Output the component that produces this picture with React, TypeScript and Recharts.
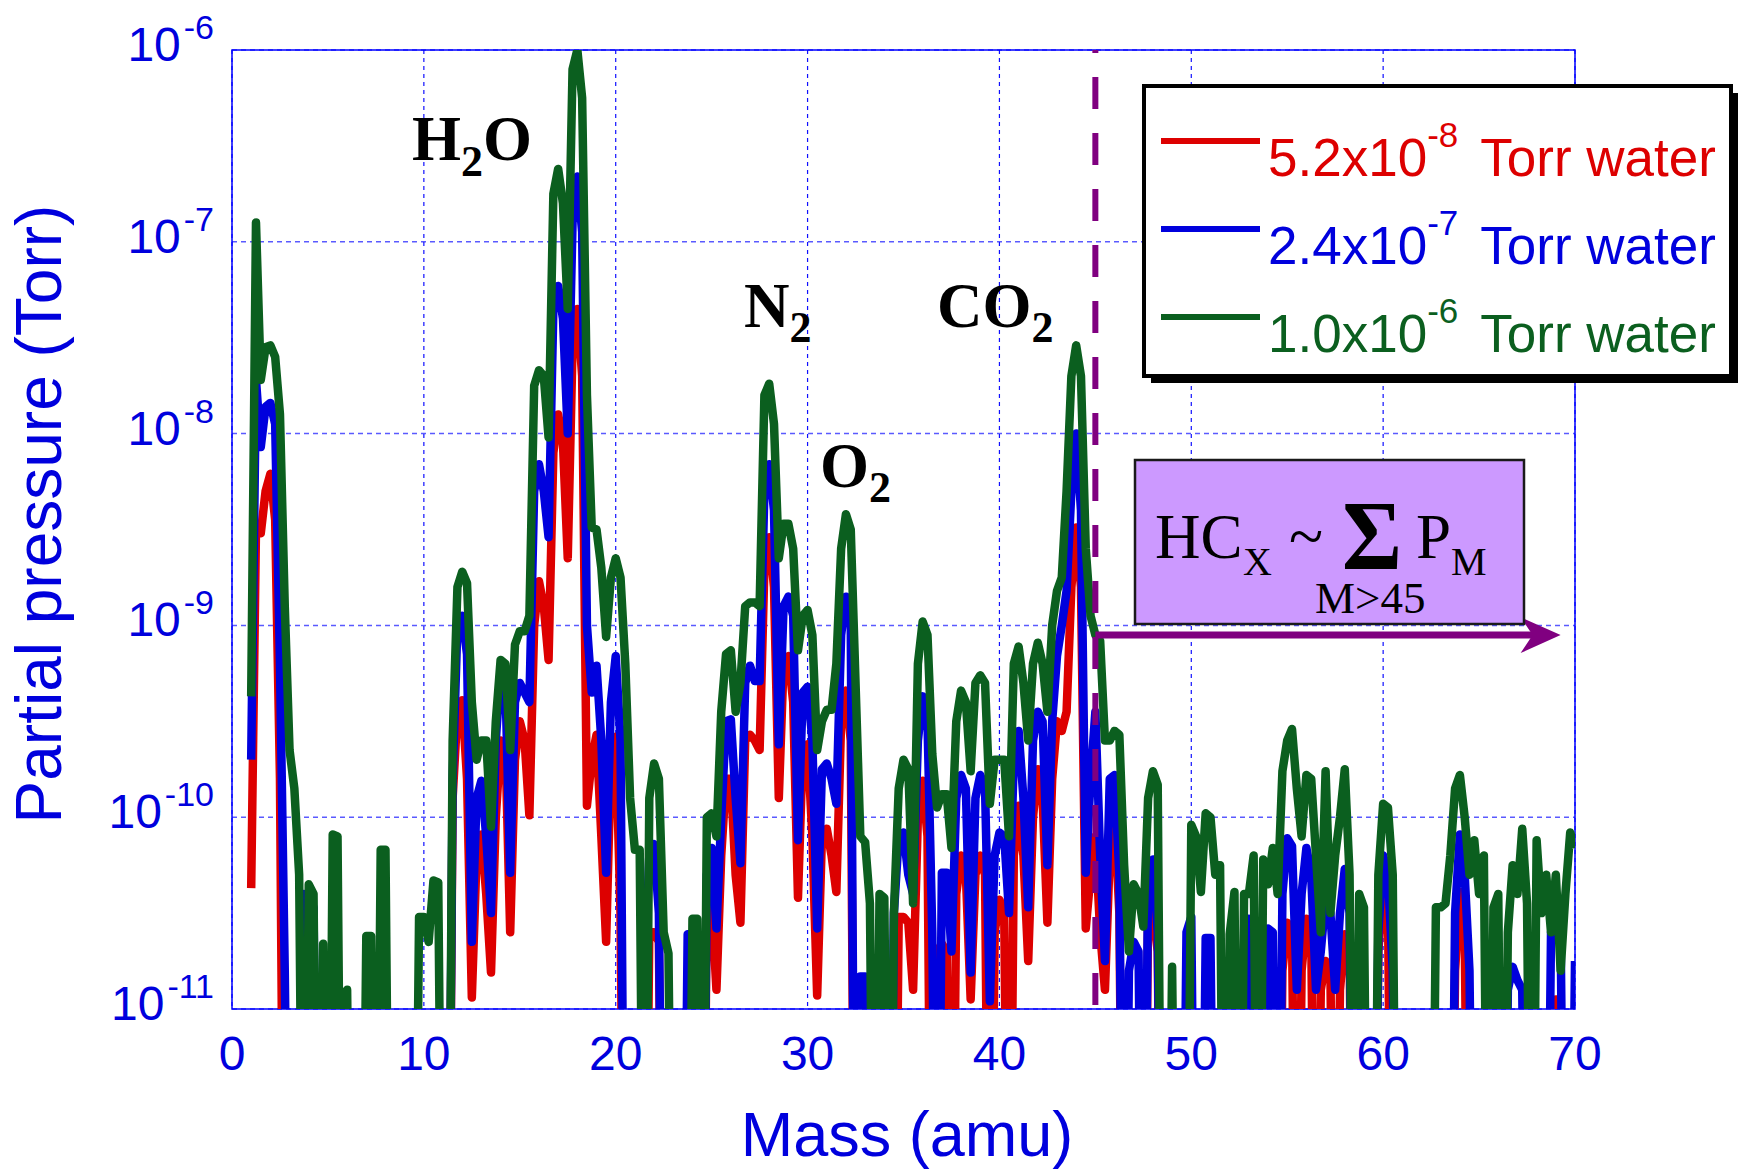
import React from 'react';
import { LineChart, Line, XAxis, YAxis, CartesianGrid, ReferenceLine, ReferenceArea } from 'recharts';

// sentinel for readings that sit below the 1e-11 floor of the plot (clipped away)
const LO = -13;

// Partial pressures, stored as log10(Torr),
// one value every 0.25 amu from 1 to 70 (4 values per row, row = integer mass)
const redLog = [
  -10.37, -8.5, -8.52, -8.3, // 1
  -8.21, -8.45, -9.8, LO, // 2
  LO, LO, LO, LO, // 3
  LO, LO, LO, LO, // 4
  LO, LO, LO, LO, // 5
  LO, LO, LO, LO, // 6
  LO, LO, LO, LO, // 7
  LO, LO, LO, LO, // 8
  LO, LO, LO, LO, // 9
  LO, LO, LO, LO, // 10
  LO, LO, -9.9, -9.45, // 11
  -9.39, -9.8, -10.94, -10.2, // 12
  -10.09, -10.4, -10.81, -10.0, // 13
  -9.6, -9.62, -10.6, -9.7, // 14
  -9.5, -9.6, -9.99, -9.0, // 15
  -8.77, -8.9, -9.18, -8.1, // 16
  -7.9, -8.05, -8.65, -7.55, // 17
  -7.35, -7.7, -9.94, -9.7, // 18
  -9.57, -10.1, -10.65, -9.7, // 19
  -9.58, -10.5, LO, LO, // 20
  LO, LO, LO, -10.6, // 21
  -10.6, -10.65, LO, LO, // 22
  LO, LO, LO, -10.86, // 23
  LO, LO, LO, -10.45, // 24
  -10.45, -10.9, -10.2, -9.8, // 25
  -9.8, -10.3, -10.55, -9.6, // 26
  -9.57, -9.6, -9.65, -8.7, // 27
  -8.54, -8.8, -9.9, -9.2, // 28
  -9.16, -9.4, -10.42, -9.65, // 29
  -9.62, -10.1, -10.93, -10.1, // 30
  -10.06, -10.2, -10.39, -9.5, // 31
  -9.34, -9.6, LO, LO, // 32
  LO, LO, LO, LO, // 33
  LO, -10.9, LO, -10.52, // 34
  -10.52, -10.55, -10.9, -10.0, // 35
  -9.81, -10.1, LO, -10.7, // 36
  -10.66, -10.7, LO, -10.4, // 37
  -10.2, -10.3, -10.95, -10.3, // 38
  -10.2, -10.3, LO, -10.6, // 39
  -10.43, -10.5, LO, -10.2, // 40
  -9.94, -10.2, -10.75, -10.0, // 41
  -9.75, -9.9, -10.55, -9.8, // 42
  -9.5, -9.55, -9.45, -8.8, // 43
  -8.49, -8.8, -10.58, -10.3, // 44
  -10.1, -10.6, -10.9, -10.2, // 45
  -9.98, -10.5, LO, LO, // 46
  LO, LO, LO, -10.5, // 47
  -10.48, -10.7, LO, LO, // 48
  LO, LO, LO, LO, // 49
  LO, LO, LO, LO, // 50
  LO, LO, LO, LO, // 51
  LO, LO, LO, LO, // 52
  LO, LO, LO, LO, // 53
  LO, LO, LO, -10.8, // 54
  -10.55, -10.6, LO, -10.8, // 55
  -10.53, -10.6, LO, -10.9, // 56
  -10.75, -10.8, LO, -10.9, // 57
  -10.61, -10.7, LO, LO, // 58
  LO, LO, LO, -10.7, // 59
  -10.35, -10.45, LO, LO, // 60
  LO, LO, LO, LO, // 61
  LO, LO, LO, LO, // 62
  LO, LO, LO, -10.8, // 63
  -10.39, -10.6, LO, LO, // 64
  LO, LO, LO, LO, // 65
  LO, LO, LO, LO, // 66
  LO, LO, LO, LO, // 67
  LO, LO, LO, LO, // 68
  -10.95, -10.95, LO, LO, // 69
  LO, // 70
];

const blueLog = [
  -9.7, -7.72, -8.07, -7.86, // 1
  -7.84, -7.95, -9.2, -10.8, // 2
  LO, LO, LO, -10.4, // 3
  -10.45, -10.47, LO, LO, // 4
  LO, LO, LO, LO, // 5
  LO, LO, LO, LO, // 6
  LO, LO, LO, LO, // 7
  LO, LO, LO, LO, // 8
  LO, LO, LO, LO, // 9
  LO, LO, LO, LO, // 10
  LO, LO, -9.8, -9.0, // 11
  -8.95, -9.15, -10.65, -9.9, // 12
  -9.81, -10.1, -10.5, -9.6, // 13
  -9.23, -9.3, -10.29, -9.4, // 14
  -9.3, -9.35, -9.4, -8.3, // 15
  -8.16, -8.3, -8.54, -7.35, // 16
  -7.23, -7.4, -8.0, -6.9, // 17
  -6.66, -6.95, -9.0, -9.35, // 18
  -9.21, -9.6, -10.29, -9.4, // 19
  -9.16, -9.6, LO, LO, // 20
  LO, LO, -10.9, -10.2, // 21
  -10.14, -10.5, LO, LO, // 22
  LO, LO, LO, -10.61, // 23
  -10.61, LO, LO, -10.3, // 24
  -10.16, -10.58, -10.0, -9.5, // 25
  -9.49, -9.9, -10.24, -9.3, // 26
  -9.21, -9.29, -9.29, -8.3, // 27
  -8.16, -8.4, -9.62, -8.9, // 28
  -8.85, -8.95, -10.12, -9.35, // 29
  -9.32, -9.6, -10.58, -9.75, // 30
  -9.72, -9.8, -9.93, -9.05, // 31
  -8.85, -9.0, LO, -10.83, // 32
  -10.83, LO, LO, LO, // 33
  LO, LO, -10.5, -10.1, // 34
  -10.08, -10.3, -10.4, -9.6, // 35
  -9.37, -9.5, -10.6, LO, // 36
  -10.29, -10.29, -10.7, -9.9, // 37
  -9.78, -9.85, -10.81, -9.9, // 38
  -9.78, -9.85, -10.96, -10.2, // 39
  -10.08, -10.1, -10.5, -9.7, // 40
  -9.55, -9.9, -10.47, -9.6, // 41
  -9.45, -9.5, -10.25, -9.5, // 42
  -9.16, -9.0, -8.82, -8.3, // 43
  -8.0, -8.4, -10.29, -9.8, // 44
  -9.45, -10.2, -10.75, -9.8, // 45
  -9.78, -10.3, LO, -10.8, // 46
  -10.65, -10.7, LO, -10.3, // 47
  -10.22, -10.6, LO, LO, // 48
  LO, LO, LO, -10.6, // 49
  -10.52, LO, LO, -10.63, // 50
  -10.63, LO, LO, LO, // 51
  LO, LO, LO, LO, // 52
  -10.53, -10.55, LO, LO, // 53
  -10.58, -10.6, LO, -10.4, // 54
  -10.11, -10.15, -10.9, -10.4, // 55
  -10.16, -10.3, -10.9, -10.7, // 56
  -10.42, -10.5, -10.9, -10.5, // 57
  -10.27, -10.5, LO, LO, // 58
  LO, LO, LO, -10.6, // 59
  -10.2, -10.3, -10.8, LO, // 60
  LO, LO, LO, LO, // 61
  LO, LO, LO, LO, // 62
  LO, LO, LO, -10.5, // 63
  -10.09, -10.3, -10.8, LO, // 64
  LO, LO, LO, LO, // 65
  LO, LO, -10.9, -10.78, // 66
  -10.85, -10.9, LO, LO, // 67
  LO, LO, LO, -10.6, // 68
  -10.53, -10.6, LO, LO, // 69
  -10.75, // 70
];

const greenLog = [
  -9.37, -6.9, -7.72, -7.55, // 1
  -7.54, -7.6, -7.9, -8.9, // 2
  -9.65, -9.85, -10.3, LO, // 3
  -10.35, -10.4, LO, -10.66, // 4
  LO, -10.09, -10.1, LO, // 5
  -10.9, LO, LO, LO, // 6
  -10.62, -10.62, LO, -10.17, // 7
  -10.17, LO, LO, LO, // 8
  LO, LO, LO, -10.52, // 9
  -10.52, -10.65, -10.33, -10.34, // 10
  LO, LO, -9.6, -8.8, // 11
  -8.72, -8.78, -9.4, -9.7, // 12
  -9.6, -9.6, -10.05, -9.5, // 13
  -9.18, -9.2, -9.65, -9.1, // 14
  -9.03, -9.03, -8.95, -7.75, // 15
  -7.67, -7.7, -8.02, -6.75, // 16
  -6.62, -6.8, -7.35, -6.1, // 17
  -6.0, -6.25, -7.8, -8.49, // 18
  -8.5, -8.7, -9.06, -8.75, // 19
  -8.65, -8.75, -9.2, -9.9, // 20
  -10.17, -10.17, LO, -9.9, // 21
  -9.72, -9.8, -10.6, -10.71, // 22
  LO, LO, LO, LO, // 23
  -10.53, -10.53, LO, -10.0, // 24
  -9.98, -10.1, -9.45, -9.15, // 25
  -9.13, -9.45, -9.3, -8.9, // 26
  -8.88, -8.88, -8.9, -7.8, // 27
  -7.74, -7.95, -8.65, -8.47, // 28
  -8.47, -8.6, -9.13, -8.95, // 29
  -8.92, -9.05, -9.65, -9.5, // 30
  -9.44, -9.44, -9.2, -8.6, // 31
  -8.42, -8.5, -9.3, -10.1, // 32
  -10.13, -10.45, LO, -10.4, // 33
  -10.42, LO, -10.5, -9.85, // 34
  -9.7, -9.75, -10.45, -9.2, // 35
  -8.98, -9.05, -9.67, -9.95, // 36
  -9.88, -9.88, -10.16, -9.5, // 37
  -9.34, -9.4, -9.76, -9.3, // 38
  -9.26, -9.3, -9.93, -9.7, // 39
  -9.7, -9.7, -10.1, -9.2, // 40
  -9.11, -9.3, -9.6, -9.2, // 41
  -9.09, -9.2, -9.45, -9.0, // 42
  -8.82, -8.75, -8.3, -7.7, // 43
  -7.54, -7.7, -8.6, -8.95, // 44
  -9.05, -9.08, -9.6, -9.6, // 45
  -9.55, -9.57, -10.25, -10.7, // 46
  -10.35, -10.4, -10.57, -9.9, // 47
  -9.76, -9.83, LO, LO, // 48
  -10.78, LO, LO, LO, // 49
  -10.04, -10.1, -10.39, -9.98, // 50
  -10.0, -10.3, -10.25, LO, // 51
  -10.61, -10.39, LO, -10.4, // 52
  -10.4, -10.2, LO, -10.22, // 53
  -10.35, -10.16, -10.4, -9.76, // 54
  -9.6, -9.54, -9.85, -10.1, // 55
  -9.78, -9.8, -10.2, -10.6, // 56
  -9.76, -10.5, -10.2, -10.0, // 57
  -9.75, -10.3, LO, -10.4, // 58
  -10.47, LO, LO, -10.3, // 59
  -9.93, -9.95, -10.3, LO, // 60
  LO, LO, LO, LO, // 61
  LO, LO, LO, -10.47, // 62
  -10.47, -10.45, -10.2, -9.85, // 63
  -9.78, -10.0, -10.3, -10.12, // 64
  -10.4, -10.2, LO, -10.47, // 65
  -10.4, LO, -10.6, -10.25, // 66
  -10.4, -10.06, -10.45, LO, // 67
  -10.12, -10.5, -10.3, -10.6, // 68
  -10.3, -10.8, -10.4, -10.08, // 69
  -10.16, // 70
];

const MASS_START = 1;
const MASS_STEP = 0.25;

const massTicks = [0, 10, 20, 30, 40, 50, 60, 70];
const pressureTicks = [1e-11, 1e-10, 1e-9, 1e-8, 1e-7, 1e-6];

// legend entries (water pressure of each run)
const seriesKeys = ['red', 'blue', 'green'];
const legendBases = ['5.2x10', '2.4x10', '1.0x10'];
const legendExponents = ['-8', '-7', '-6'];
const seriesColors = ['#dd0000', '#0000dd', '#0b5f1f'];

// hydrocarbon cut-off and the arrow drawn from it
const HC_CUTOFF_MASS = 45;
const ARROW_END_MASS = 69.25;
const ARROW_LEVEL = 8.9e-10;

const AXIS_BLUE = '#0000dd';
const PURPLE = '#800080';
const SANS = "'Liberation Sans', Arial, Helvetica, sans-serif";
const SERIF = "'Liberation Serif', 'Times New Roman', Times, serif";

const data = redLog.map((r, i) => ({
  mass: MASS_START + i * MASS_STEP,
  red: Math.pow(10, r),
  blue: Math.pow(10, blueLog[i]),
  green: Math.pow(10, greenLog[i]),
}));

const PressureTick = (props: any) => {
  const { x, y, payload } = props;
  const exp = Math.round(Math.log10(payload.value));
  return (
    <text x={x} y={y + 11} textAnchor="end" fill={AXIS_BLUE} fontSize={48} fontFamily={SANS}>
      10
      <tspan dy={-22} dx={3} fontSize={34}>{exp}</tspan>
    </text>
  );
};

const MassTick = (props: any) => {
  const { x, y, payload } = props;
  return (
    <text x={x} y={y + 61} textAnchor="middle" fill={AXIS_BLUE} fontSize={48} fontFamily={SANS}>
      {payload.value}
    </text>
  );
};

// horizontal arrow with a barbed head
const renderArrow = (props: any) => {
  const { x1, y1, x2 } = props;
  return (
    <g>
      <line x1={x1} y1={y1} x2={x2 - 26} y2={y1} stroke={PURPLE} strokeWidth={7} />
      <path
        d={`M${x2},${y1} L${x2 - 40},${y1 - 18} L${x2 - 28},${y1} L${x2 - 40},${y1 + 18} Z`}
        fill={PURPLE}
      />
    </g>
  );
};

const Sub = ({ children, dy, size }: any) => (
  <tspan dy={dy} fontSize={size}>{children}</tspan>
);

const App: React.FC = () => {
  return (
    <div
      style={{
        position: 'absolute',
        left: 0,
        top: 0,
        width: 1748,
        height: 1169,
        background: '#ffffff',
        overflow: 'hidden',
      }}
    >
      <LineChart
        width={1748}
        height={1169}
        data={data}
        margin={{ top: 50, right: 173, bottom: 100, left: 32 }}
      >
        <CartesianGrid horizontal vertical={false} stroke="#5a5aff" strokeDasharray="5 4" strokeWidth={1.5} />
        <CartesianGrid horizontal={false} vertical stroke="#1010ff" strokeDasharray="4 4" strokeWidth={1.2} />
        <XAxis
          type="number"
          dataKey="mass"
          domain={[0, 70]}
          ticks={massTicks}
          interval={0}
          allowDataOverflow
          axisLine={false}
          tickLine={false}
          tickSize={0}
          tickMargin={0}
          height={60}
          tick={(p: any) => <MassTick {...p} />}
        />
        <YAxis
          type="number"
          scale="log"
          domain={[1e-11, 1e-6]}
          ticks={pressureTicks}
          interval={0}
          allowDataOverflow
          axisLine={false}
          tickLine={false}
          tickSize={0}
          tickMargin={18}
          width={200}
          tick={(p: any) => <PressureTick {...p} />}
        />
        {seriesKeys.map((key, i) => (
          <Line
            key={key}
            type="linear"
            dataKey={key}
            stroke={seriesColors[i]}
            strokeWidth={8.5}
            strokeLinejoin="round"
            dot={false}
            activeDot={false}
            isAnimationActive={false}
          />
        ))}
        <ReferenceArea
          x1={0}
          x2={70}
          y1={1e-11}
          y2={1e-6}
          fill="none"
          fillOpacity={0}
          stroke="#0000ff"
          strokeWidth={1.5}
        />
        <ReferenceLine
          segment={[
            { x: HC_CUTOFF_MASS, y: 1e-6 },
            { x: HC_CUTOFF_MASS, y: 1e-11 },
          ]}
          stroke={PURPLE}
          strokeWidth={6}
          strokeDasharray="32 24"
          strokeDashoffset={29}
        />
        <ReferenceLine
          segment={[
            { x: HC_CUTOFF_MASS, y: ARROW_LEVEL },
            { x: ARROW_END_MASS, y: ARROW_LEVEL },
          ]}
          stroke={PURPLE}
          shape={renderArrow}
        />
      </LineChart>

      <svg
        width={1748}
        height={1169}
        style={{ position: 'absolute', left: 0, top: 0, pointerEvents: 'none' }}
      >
        {/* axis titles */}
        <text x={907} y={1156} textAnchor="middle" fill={AXIS_BLUE} fontSize={63} fontFamily={SANS}>
          Mass (amu)
        </text>
        <text
          transform="translate(61 514) rotate(-90)"
          textAnchor="middle"
          fill={AXIS_BLUE}
          fontSize={64}
          fontFamily={SANS}
        >
          Partial pressure (Torr)
        </text>

        {/* peak labels */}
        <g fontFamily={SERIF} fontWeight="bold" fontSize={63} fill="#000">
          <text x={412} y={160}>
            H<Sub dy={16} size={44}>2</Sub><Sub dy={-16} size={63}>O</Sub>
          </text>
          <text x={744} y={327}>
            N<Sub dy={15} size={44}>2</Sub>
          </text>
          <text x={937} y={327}>
            CO<Sub dy={15} size={44}>2</Sub>
          </text>
          <text x={820} y={487}>
            O<Sub dy={15} size={44}>2</Sub>
          </text>
        </g>

        {/* legend */}
        <rect x={1151} y={93} width={587} height={290} fill="#000" />
        <rect x={1144} y={86} width={587} height={290} fill="#fff" stroke="#000" strokeWidth={4} />
        {legendBases.map((base, i) => {
          const ly = 141 + i * 88;
          return (
            <g key={base}>
              <line x1={1161} y1={ly} x2={1260} y2={ly} stroke={seriesColors[i]} strokeWidth={6} />
              <text x={1268} y={ly + 35} fill={seriesColors[i]} fontSize={53} fontFamily={SANS}>
                {base}
                <tspan dy={-29} fontSize={35}>{legendExponents[i]}</tspan>
                <tspan dy={29} dx={22} fontSize={53}>Torr water</tspan>
              </text>
            </g>
          );
        })}

        {/* hydrocarbon estimate box */}
        <rect x={1135} y={460} width={389} height={164} fill="#cc99ff" stroke="#1a1a1a" strokeWidth={2.5} />
        <g fontFamily={SERIF} fill="#000">
          <text x={1155} y={558} fontSize={63}>HC</text>
          <text x={1243} y={575} fontSize={40}>X</text>
          <text x={1289} y={558} fontSize={63}>~</text>
          <text
            x={1342}
            y={569}
            fontSize={100}
            fontWeight="bold"
            textLength={60}
            lengthAdjust="spacingAndGlyphs"
          >
            Σ
          </text>
          <text x={1416} y={558} fontSize={63}>P</text>
          <text x={1451} y={575} fontSize={40}>M</text>
          <text x={1315} y={613} fontSize={45}>M&gt;45</text>
        </g>
      </svg>
    </div>
  );
};

export default App;
